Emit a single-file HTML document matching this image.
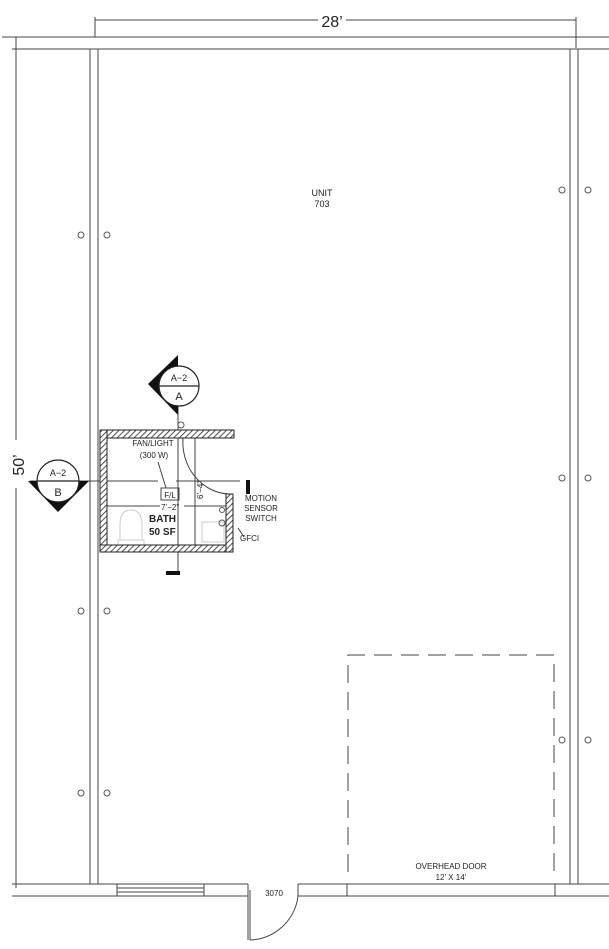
<!DOCTYPE html>
<html><head><meta charset="utf-8"><style>
html,body{margin:0;padding:0;background:#fff}
svg{display:block}
text{font-family:"Liberation Sans",sans-serif;fill:#222}
</style></head><body>
<svg width="609" height="949" viewBox="0 0 609 949" xmlns="http://www.w3.org/2000/svg">
<defs>
<pattern id="h" width="4" height="4" patternUnits="userSpaceOnUse" patternTransform="rotate(45)">
<rect width="4" height="4" fill="#fff"/><line x1="0" y1="0" x2="0" y2="4" stroke="#222" stroke-width="1.6"/>
</pattern>
</defs>
<g stroke="#444" stroke-width="1" fill="none">
<line x1="95" y1="20" x2="318" y2="20"/><line x1="346" y1="20" x2="576" y2="20"/>
<line x1="95" y1="17" x2="95" y2="37"/><line x1="576" y1="17" x2="576" y2="48"/>
<line x1="2" y1="37" x2="609" y2="37"/>
<line x1="12" y1="49" x2="609" y2="49"/>
<line x1="16" y1="37" x2="16" y2="440"/><line x1="16" y1="488" x2="16" y2="888"/>
<line x1="90" y1="49" x2="90" y2="884"/><line x1="98" y1="49" x2="98" y2="884"/>
<line x1="570" y1="49" x2="570" y2="884"/><line x1="578" y1="49" x2="578" y2="884"/>
<line x1="12" y1="884" x2="248" y2="884"/><line x1="12" y1="896" x2="248" y2="896"/>
<line x1="298" y1="884" x2="609" y2="884"/><line x1="298" y1="896" x2="609" y2="896"/>
<line x1="117" y1="884" x2="117" y2="896"/><line x1="204" y1="884" x2="204" y2="896"/>
<line x1="117" y1="888" x2="204" y2="888"/><line x1="117" y1="892" x2="204" y2="892"/>
<line x1="298" y1="884" x2="298" y2="896"/>
<line x1="248" y1="884" x2="248" y2="940"/><line x1="250" y1="890" x2="250" y2="940"/>
<path d="M250 940 A50 50 0 0 0 298 896"/>
<line x1="347" y1="884" x2="347" y2="896"/><line x1="555" y1="884" x2="555" y2="896"/>
<path d="M348 872 V655 H554 V872" stroke-dasharray="18 9"/>
<line x1="30" y1="481" x2="158" y2="481"/><line x1="176" y1="481" x2="240" y2="481"/>
<line x1="178" y1="395" x2="178" y2="575"/>
<line x1="107" y1="506" x2="160" y2="506"/><line x1="184" y1="506" x2="226" y2="506"/>
<line x1="195" y1="438" x2="195" y2="545"/>
<path d="M183 438 A48 52 0 0 0 228 494"/>
<line x1="158" y1="462" x2="166" y2="488"/>
<rect x="161" y="488" width="18" height="12"/>
<line x1="238" y1="528" x2="244" y2="537"/>
<g stroke="#ccc">
<path d="M120 540 V525 Q120 510 131 510 Q142 510 142 525 V540 Z"/>
<rect x="118" y="540" width="26" height="6"/>
<rect x="202" y="522" width="22" height="20"/>
</g>
<g stroke="#555">
<circle cx="81" cy="235" r="3"/><circle cx="107" cy="235" r="3"/>
<circle cx="81" cy="611" r="3"/><circle cx="107" cy="611" r="3"/>
<circle cx="81" cy="793" r="3"/><circle cx="107" cy="793" r="3"/>
<circle cx="562" cy="190" r="3"/><circle cx="588" cy="190" r="3"/>
<circle cx="562" cy="478" r="3"/><circle cx="588" cy="478" r="3"/>
<circle cx="562" cy="740" r="3"/><circle cx="588" cy="740" r="3"/>
<circle cx="181" cy="425" r="3"/><circle cx="222" cy="523" r="3"/><circle cx="222" cy="510" r="2.5"/>
</g>
</g>
<g stroke="#222" stroke-width="1">
<rect x="100" y="430" width="134" height="8" fill="url(#h)"/>
<rect x="100" y="430" width="7" height="122" fill="url(#h)"/>
<rect x="100" y="545" width="133" height="7" fill="url(#h)"/>
<rect x="226" y="494" width="7" height="58" fill="url(#h)"/>
</g>
<rect x="246" y="480" width="4" height="14" fill="#111"/>
<rect x="166" y="571" width="14" height="4" fill="#111"/>
<!-- section marker A -->
<polygon points="178,355 148,384 178,415" fill="#111"/>
<circle cx="179" cy="386" r="20" fill="#fff" stroke="#222" stroke-width="1.2"/>
<line x1="159" y1="386" x2="199" y2="386" stroke="#222" stroke-width="1.2"/>
<!-- section marker B -->
<polygon points="28,481 89,481 58,512" fill="#111"/>
<circle cx="58" cy="481" r="21" fill="#fff" stroke="#222" stroke-width="1.2"/>
<line x1="37" y1="481" x2="79" y2="481" stroke="#222" stroke-width="1.2"/>
<text x="332" y="27" font-size="16" text-anchor="middle" fill="#444">28’</text>
<text transform="translate(24,465) rotate(-90)" font-size="16" text-anchor="middle" fill="#444">50’</text>
<text x="322" y="196" font-size="9" text-anchor="middle">UNIT</text>
<text x="322" y="207" font-size="9" text-anchor="middle">703</text>
<text x="179" y="381" font-size="9" text-anchor="middle">A−2</text>
<text x="179" y="400" font-size="11" text-anchor="middle">A</text>
<text x="58" y="476" font-size="9" text-anchor="middle">A−2</text>
<text x="58" y="496" font-size="11" text-anchor="middle">B</text>
<text x="153" y="446" font-size="8" text-anchor="middle" fill="#555">FAN/LIGHT</text>
<text x="154" y="458" font-size="8" text-anchor="middle" fill="#555">(300  W)</text>
<text x="170" y="498" font-size="8" text-anchor="middle" fill="#555">F/L</text>
<text x="170" y="510" font-size="8" text-anchor="middle" fill="#333">7’−2”</text>
<text transform="translate(203,490) rotate(-90)" font-size="8" text-anchor="middle" fill="#333">6’−4”</text>
<text x="149" y="522" font-size="10" font-weight="bold" fill="#111">BATH</text>
<text x="149" y="535" font-size="10" font-weight="bold" fill="#111">50 SF</text>
<text x="261" y="501" font-size="8" text-anchor="middle" fill="#444">MOTION</text>
<text x="261" y="511" font-size="8" text-anchor="middle" fill="#444">SENSOR</text>
<text x="261" y="521" font-size="8" text-anchor="middle" fill="#444">SWITCH</text>
<text x="240" y="541" font-size="8" fill="#444">GFCI</text>
<text x="451" y="869" font-size="8" text-anchor="middle" fill="#333">OVERHEAD DOOR</text>
<text x="451" y="880" font-size="8" text-anchor="middle" fill="#333">12’ X 14’</text>
<text x="274" y="896" font-size="8" text-anchor="middle" fill="#333">3070</text>
</svg>
</body></html>
